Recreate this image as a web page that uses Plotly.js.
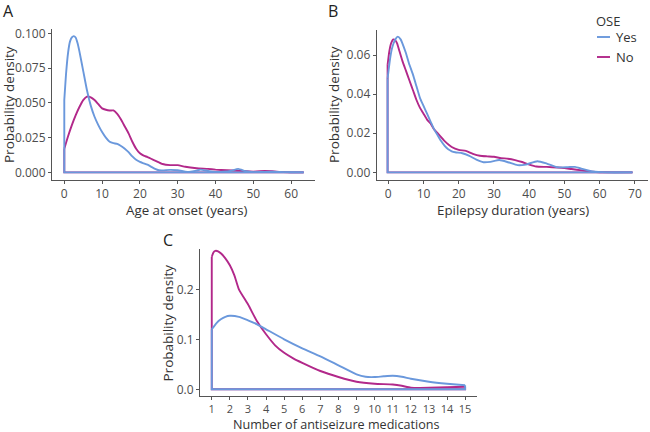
<!DOCTYPE html>
<html>
<head>
<meta charset="utf-8">
<script src="https://cdn.plot.ly/plotly-3.0.1.min.js"></script>
<style>html,body{margin:0;padding:0;background:#fff;}#chart{width:650px;height:432px;}</style>
</head>
<body>
<div id="chart"></div>
<script>
// Panel A: age at onset (years)
var ageX_yes = [0, 0.5, 1, 1.5, 2, 2.5, 3, 3.5, 4, 5, 6, 7, 8, 9, 10, 11, 12, 13, 14, 15, 16, 17, 18, 19, 20, 21, 22, 23, 24, 25, 26, 28, 30, 32, 33, 35, 36, 38, 40, 42, 44, 46, 48, 50, 52, 55, 58, 60, 63.3];
var ageY_yes = [0.052, 0.072, 0.086, 0.094, 0.097, 0.098, 0.097, 0.093, 0.087, 0.073, 0.059, 0.048, 0.040, 0.034, 0.029, 0.025, 0.022, 0.021, 0.0205, 0.019, 0.017, 0.0145, 0.0115, 0.009, 0.0075, 0.0065, 0.0055, 0.004, 0.0025, 0.0015, 0.0014, 0.0018, 0.0015, 0.0005, 0.0003, 0.0012, 0.002, 0.001, 0.0003, 0.0004, 0.001, 0.0025, 0.0008, 0.0002, 0.0003, 0.0005, 0.0002, 0.0001, 0.0];
var ageX_no = [0, 1, 2, 3, 4, 5, 6, 7, 8, 9, 10, 11, 12, 13, 14, 15, 16, 17, 18, 19, 20, 21, 22, 24, 26, 28, 30, 32, 35, 38, 40, 43, 46, 50, 53, 55, 58, 63.3];
var ageY_no = [0.017, 0.026, 0.034, 0.041, 0.047, 0.052, 0.0545, 0.054, 0.052, 0.049, 0.046, 0.045, 0.0445, 0.0445, 0.042, 0.038, 0.033, 0.028, 0.022, 0.017, 0.0137, 0.012, 0.011, 0.0085, 0.006, 0.0052, 0.0052, 0.004, 0.003, 0.0025, 0.002, 0.0015, 0.0012, 0.0005, 0.001, 0.0008, 0.0002, 0.0];

// Panel B: epilepsy duration (years)
var durX_yes = [-0.2, 0.5, 1, 1.5, 2, 2.7, 3.5, 4, 5, 6, 7, 8, 9, 10, 11, 12, 13, 14, 15, 16, 17, 18, 19, 21, 23, 25, 27, 29, 31.5, 34, 36.7, 39, 42.3, 45, 48, 51, 53, 55, 58, 62, 69.3];
var durY_yes = [0.048, 0.058, 0.063, 0.066, 0.068, 0.0694, 0.068, 0.066, 0.061, 0.055, 0.050, 0.044, 0.038, 0.034, 0.030, 0.026, 0.022, 0.019, 0.016, 0.0135, 0.0118, 0.0108, 0.0103, 0.0098, 0.0085, 0.0065, 0.0052, 0.0054, 0.0063, 0.0052, 0.0037, 0.004, 0.0057, 0.0045, 0.0026, 0.0027, 0.0028, 0.0018, 0.0005, 0.0, 0.0];
var durX_no = [-0.2, 0.3, 0.8, 1.4, 2, 2.5, 3, 4, 5, 6, 7, 8, 9, 10, 11, 12, 13, 14, 16, 18, 20, 22, 24, 26, 28, 30, 32, 34, 36, 38, 40, 42, 45, 48, 50, 52, 55, 58, 60, 69.3];
var durY_no = [0.055, 0.062, 0.066, 0.068, 0.0675, 0.066, 0.063, 0.057, 0.052, 0.047, 0.042, 0.037, 0.033, 0.030, 0.027, 0.025, 0.022, 0.020, 0.016, 0.013, 0.0115, 0.011, 0.0095, 0.0085, 0.0082, 0.008, 0.0073, 0.007, 0.0063, 0.0053, 0.004, 0.003, 0.0028, 0.0025, 0.0022, 0.0017, 0.001, 0.0003, 0.0001, 0.0];

// Panel C: number of antiseizure medications
var asmX_yes = [1, 1.25, 1.5, 1.75, 2, 2.5, 3, 3.5, 4, 5, 6, 7, 8, 9, 9.5, 10, 10.5, 11, 11.5, 12, 13, 14, 15];
var asmY_yes = [0.12, 0.132, 0.14, 0.145, 0.147, 0.145, 0.138, 0.13, 0.12, 0.10, 0.082, 0.066, 0.048, 0.03, 0.025, 0.0245, 0.026, 0.027, 0.025, 0.021, 0.015, 0.011, 0.008];
var asmX_no = [1, 1.1, 1.2, 1.35, 1.5, 1.75, 2, 2.25, 2.5, 3, 3.5, 4, 4.5, 5, 5.5, 6, 7, 8, 9, 10, 11, 11.5, 12, 13, 14, 15];
var asmY_no = [0.265, 0.274, 0.277, 0.276, 0.272, 0.262, 0.248, 0.228, 0.20, 0.17, 0.136, 0.11, 0.088, 0.073, 0.062, 0.053, 0.0366, 0.0246, 0.015, 0.011, 0.0095, 0.007, 0.0033, 0.003, 0.004, 0.005];

var seriesNames = ['Yes', 'No'];
var legendTitle = 'OSE';
var panelLabels = ['A', 'B', 'C'];
var xTitles = ['Age at onset (years)', 'Epilepsy duration (years)', 'Number of antiseizure medications'];
var yTitle = 'Probability density';
var asmTicks = [1,2,3,4,5,6,7,8,9,10,11,12,13,14,15];

var BLUE = '#6a98dc';
var MAG = '#b2288a';
var FONT = 'Open Sans, sans-serif';
var LW = 1.9;

var traces = [];
function addSeries(xa, ya, xs, ys, color, name) {
  var n = xs.length;
  // closing outline of the density polygon (start vertical, baseline, end vertical)
  traces.push({x: [xs[n-1], xs[n-1], xs[0], xs[0]], y: [ys[n-1], 0, 0, ys[0]],
    xaxis: xa, yaxis: ya, type: 'scatter', mode: 'lines',
    line: {color: color, width: LW}, showlegend: false, hoverinfo: 'skip', name: name});
  traces.push({x: xs, y: ys, xaxis: xa, yaxis: ya, type: 'scatter', mode: 'lines',
    line: {color: color, width: LW, shape: 'spline', smoothing: 0.5},
    showlegend: false, hoverinfo: 'skip', name: name});
}
addSeries('x', 'y', ageX_no, ageY_no, MAG, seriesNames[1]);
addSeries('x', 'y', ageX_yes, ageY_yes, BLUE, seriesNames[0]);
addSeries('x2', 'y2', durX_no, durY_no, MAG, seriesNames[1]);
addSeries('x2', 'y2', durX_yes, durY_yes, BLUE, seriesNames[0]);
addSeries('x3', 'y3', asmX_no, asmY_no, MAG, seriesNames[1]);
addSeries('x3', 'y3', asmX_yes, asmY_yes, BLUE, seriesNames[0]);

function ax(domain, range, extra) {
  var a = {domain: domain, range: range, showline: true, linecolor: '#555', linewidth: 1,
    ticks: 'outside', ticklen: 3, tickcolor: '#555', tickwidth: 1, showgrid: false, zeroline: false,
    tickfont: {family: FONT, size: 12, color: '#4d4d4d'}, fixedrange: true};
  for (var k in extra) a[k] = extra[k];
  return a;
}

function px(x) { return x / 650; }
function py(y) { return 1 - y / 432; }
function txt(t, x, y, size, opts) {
  var a = {text: t, x: px(x), y: py(y), xref: 'paper', yref: 'paper', xanchor: 'center', yanchor: 'middle',
    showarrow: false, borderpad: 0, font: {family: FONT, size: size, color: '#333'}};
  for (var k in opts) a[k] = opts[k];
  return a;
}
var labFont = {family: FONT, size: 16, color: '#222'};

var annotations = [
  txt(panelLabels[0], 8, 11, 16, {font: labFont}),
  txt(panelLabels[1], 333, 11, 16, {font: labFont}),
  txt(panelLabels[2], 168, 240, 16, {font: labFont}),
  txt(xTitles[0], 186, 209.5, 13.3),
  txt(xTitles[1], 512.5, 209.5, 13.3),
  txt(xTitles[2], 336.7, 424.5, 12.6),
  txt(yTitle, 9, 105, 13.5, {textangle: -90}),
  txt(yTitle, 334, 105, 13.5, {textangle: -90}),
  txt(yTitle, 167.5, 323, 13.5, {textangle: -90}),
  txt(legendTitle, 595, 21, 13, {xanchor: 'left'}),
  txt(seriesNames[0], 615, 37, 13, {xanchor: 'left'}),
  txt(seriesNames[1], 615, 57, 13, {xanchor: 'left'})
];
var shapes = [
  {type: 'line', xref: 'paper', yref: 'paper', x0: px(597), x1: px(610), y0: py(37), y1: py(37), line: {color: BLUE, width: LW}},
  {type: 'line', xref: 'paper', yref: 'paper', x0: px(597), x1: px(610), y0: py(57), y1: py(57), line: {color: MAG, width: LW}}
];

var layout = {
  width: 650, height: 432,
  margin: {l: 0, r: 0, t: 0, b: 0},
  paper_bgcolor: '#fff', plot_bgcolor: 'rgba(0,0,0,0)',
  font: {family: FONT, color: '#333'},
  showlegend: false,
  xaxis: ax([0.08, 0.4846], [-3.25, 66.3], {anchor: 'y', tickvals: [0,10,20,30,40,50,60]}),
  yaxis: ax([0.5833, 0.9329], [-0.0055, 0.1031], {anchor: 'x', tickvals: [0, 0.025, 0.05, 0.075, 0.1], ticktext: ['0.000','0.025','0.050','0.075','0.100']}),
  xaxis2: ax([0.5795, 0.9974], [-3.3, 73.8], {anchor: 'y2', tickvals: [0,10,20,30,40,50,60,70]}),
  yaxis2: ax([0.5833, 0.9306], [-0.0039, 0.0728], {anchor: 'x2', tickvals: [0, 0.02, 0.04, 0.06], ticktext: ['0.00','0.02','0.04','0.06']}),
  xaxis3: ax([0.3077, 0.7334], [0.35, 15.64], {anchor: 'y3', tickvals: asmTicks, tickfont: {family: FONT, size: 11, color: '#4d4d4d'}}),
  yaxis3: ax([py(396), py(249)], [-0.0134, 0.2806], {anchor: 'x3', tickvals: [0, 0.1, 0.2], ticktext: ['0.0','0.1','0.2']}),
  annotations: annotations,
  shapes: shapes
};

Plotly.newPlot('chart', traces, layout, {displayModeBar: false, staticPlot: true});
</script>
</body>
</html>
